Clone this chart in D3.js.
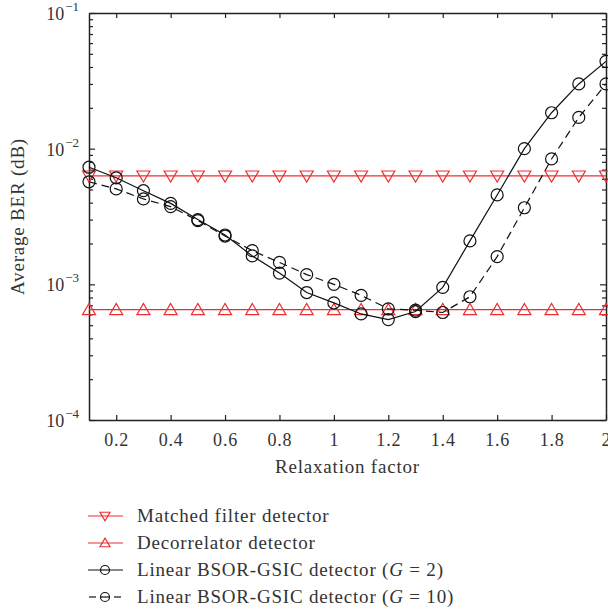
<!DOCTYPE html>
<html>
<head>
<meta charset="utf-8">
<script src="https://cdn.jsdelivr.net/npm/d3@7"></script>
<style>
  body { margin: 0; background: #fff; }
  svg { display: block; font-family: "Liberation Serif", "DejaVu Serif", serif; }
  .axis path { stroke: #222; stroke-width: 1.5; }
  .axis line { stroke: #222; stroke-width: 1.2; }
</style>
</head>
<body>
<div id="chart"></div>
<script>
// relaxation factor values
const relax = [0.1, 0.2, 0.3, 0.4, 0.5, 0.6, 0.7, 0.8, 0.9, 1.0,
               1.1, 1.2, 1.3, 1.4, 1.5, 1.6, 1.7, 1.8, 1.9, 2.0];
const matchedBER = 6.3e-3;
const decorrBER = 6.5e-4;
const bsorG2 = [7.3e-3, 6.1e-3, 4.9e-3, 3.95e-3, 3.0e-3, 2.31e-3, 1.62e-3, 1.21e-3, 8.7e-4, 7.3e-4,
                6.05e-4, 5.5e-4, 6.3e-4, 9.5e-4, 2.09e-3, 4.56e-3, 1.0e-2, 1.84e-2, 3.0e-2, 4.4e-2];
const bsorG10 = [5.7e-3, 5.05e-3, 4.26e-3, 3.74e-3, 2.95e-3, 2.27e-3, 1.77e-3, 1.45e-3, 1.18e-3, 1.0e-3,
                 8.3e-4, 6.6e-4, 6.45e-4, 6.2e-4, 8.1e-4, 1.6e-3, 3.67e-3, 8.4e-3, 1.7e-2, 3.0e-2];
const xTicks = [0.2, 0.4, 0.6, 0.8, 1, 1.2, 1.4, 1.6, 1.8, 2];
const yDecades = [-4, -3, -2, -1];
const legendLabels = ["Matched filter detector", "Decorrelator detector",
                      "Linear BSOR-GSIC detector (", "Linear BSOR-GSIC detector ("];
const legendG = [null, null, "2", "10"];

const RED = "#ec2f33";
const TEXT = "#333";
const width = 608, height = 611;
const margin = { left: 89, right: 606, top: 13, bottom: 420 };

const svg = d3.select("#chart").append("svg")
    .attr("width", width)
    .attr("height", height);

const x = d3.scaleLinear().domain([0.1, 2]).range([margin.left, margin.right]);
const y = d3.scaleLog().domain([1e-4, 1e-1]).range([margin.bottom, margin.top]);

// minor ticks for log axis
let minorTicks = [];
for (let e = -4; e < -1; e++) {
    for (let m = 2; m <= 9; m++) minorTicks.push(m * Math.pow(10, e));
}
const majorY = yDecades.map(d => Math.pow(10, d));

// x axes (bottom + top), ticks pointing inward
svg.append("g").attr("class", "axis")
    .attr("transform", "translate(0," + margin.bottom + ")")
    .call(d3.axisBottom(x).tickValues(xTicks).tickSizeInner(-5).tickSizeOuter(0).tickFormat(d3.format("")))
    .call(g => g.selectAll("text").attr("y", 13).attr("font-size", 18).attr("fill", TEXT)
        .attr("letter-spacing", 0.8).attr("font-family", "Liberation Serif"));

svg.append("g").attr("class", "axis")
    .attr("transform", "translate(0," + margin.top + ")")
    .call(d3.axisTop(x).tickValues(xTicks).tickSizeInner(-5).tickSizeOuter(0).tickFormat(""));

// y axes (left + right)
svg.append("g").attr("class", "axis")
    .attr("transform", "translate(" + margin.left + ",0)")
    .call(d3.axisLeft(y).tickValues(majorY).tickSizeInner(-6).tickSizeOuter(0).tickFormat(""));
svg.append("g").attr("class", "axis")
    .attr("transform", "translate(" + margin.left + ",0)")
    .call(d3.axisLeft(y).tickValues(minorTicks).tickSizeInner(-4).tickSizeOuter(0).tickFormat(""))
    .call(g => g.select(".domain").remove());
svg.append("g").attr("class", "axis")
    .attr("transform", "translate(" + margin.right + ",0)")
    .call(d3.axisRight(y).tickValues(majorY).tickSizeInner(-6).tickSizeOuter(0).tickFormat(""));
svg.append("g").attr("class", "axis")
    .attr("transform", "translate(" + margin.right + ",0)")
    .call(d3.axisRight(y).tickValues(minorTicks).tickSizeInner(-4).tickSizeOuter(0).tickFormat(""))
    .call(g => g.select(".domain").remove());

// y tick labels with superscripts
const ylab = svg.append("g").selectAll("text").data(yDecades).join("text")
    .attr("x", margin.left - 10)
    .attr("y", d => y(Math.pow(10, d)) + 7)
    .attr("text-anchor", "end")
    .attr("font-size", 18)
    .attr("fill", TEXT);
ylab.append("tspan").text("10");
ylab.append("tspan").attr("dx", 1).attr("dy", -9).attr("font-size", 13).text(d => "\u2212" + (-d));

// axis titles
svg.append("text")
    .attr("x", (margin.left + margin.right) / 2)
    .attr("y", 473)
    .attr("text-anchor", "middle")
    .attr("font-size", 19)
    .attr("letter-spacing", 0.8)
    .attr("fill", TEXT)
    .text("Relaxation factor");

svg.append("text")
    .attr("transform", "translate(24," + (margin.top + margin.bottom) / 2 + ") rotate(-90)")
    .attr("text-anchor", "middle")
    .attr("font-size", 19)
    .attr("letter-spacing", 0.8)
    .attr("fill", TEXT)
    .text("Average BER (dB)");

const line = d3.line().x(d => x(d[0])).y(d => y(d[1]));
const plot = svg.append("g");

function triangle(g, down, r, color) {
    const pts = down
        ? [[-r, -r * 0.75], [r, -r * 0.75], [0, r * 0.95]]
        : [[-r, r * 0.75], [r, r * 0.75], [0, -r * 0.95]];
    g.append("path").attr("d", "M" + pts.join("L") + "Z")
        .attr("fill", "none").attr("stroke", color).attr("stroke-width", 1.2);
}

// red reference lines
[[matchedBER, true], [decorrBER, false]].forEach(([v, down]) => {
    const pts = relax.map(r => [r, v]);
    plot.append("path").datum(pts).attr("d", line)
        .attr("fill", "none").attr("stroke", RED).attr("stroke-width", 1.3);
    plot.append("g").selectAll("g").data(pts).join("g")
        .attr("transform", d => "translate(" + x(d[0]) + "," + y(d[1]) + ")")
        .each(function () { triangle(d3.select(this), down, 6.5, RED); });
});

// BSOR-GSIC curves
[[bsorG2, null], [bsorG10, "8,5"]].forEach(([vals, dash]) => {
    const pts = relax.map((r, i) => [r, vals[i]]);
    plot.append("path").datum(pts).attr("d", line)
        .attr("fill", "none").attr("stroke", "#111").attr("stroke-width", 1.2)
        .attr("stroke-dasharray", dash);
    plot.append("g").selectAll("circle").data(pts).join("circle")
        .attr("cx", d => x(d[0])).attr("cy", d => y(d[1]))
        .attr("r", 6).attr("fill", "none").attr("stroke", "#111").attr("stroke-width", 1.2);
});

// legend
const legendY = [516, 543, 570, 597];
const leg = svg.append("g");
legendLabels.forEach((lab, i) => {
    const g = leg.append("g").attr("transform", "translate(0," + legendY[i] + ")");
    const col = i < 2 ? RED : "#111";
    if (i === 3) {
        g.append("line").attr("x1", 89).attr("x2", 96).attr("stroke", col).attr("stroke-width", 1.2);
        g.append("line").attr("x1", 114).attr("x2", 121).attr("stroke", col).attr("stroke-width", 1.2);
    } else {
        g.append("line").attr("x1", 88).attr("x2", 123).attr("stroke", col).attr("stroke-width", 1.2);
    }
    const m = g.append("g").attr("transform", "translate(105,0)");
    if (i < 2) triangle(m, i === 0, 5, RED);
    else {
        m.append("circle").attr("r", 4.5).attr("fill", "#fff").attr("stroke", col).attr("stroke-width", 1.2);
        m.append("line").attr("x1", -4.5).attr("x2", 4.5).attr("stroke", col).attr("stroke-width", 1.2);
    }
    const t = g.append("text").attr("x", 137).attr("y", 6).attr("font-size", 19)
        .attr("letter-spacing", 0.8).attr("fill", TEXT).text(lab);
    if (legendG[i]) {
        t.append("tspan").attr("font-style", "italic").text("G");
        t.append("tspan").text(" = " + legendG[i] + ")");
    }
});
</script>
</body>
</html>
